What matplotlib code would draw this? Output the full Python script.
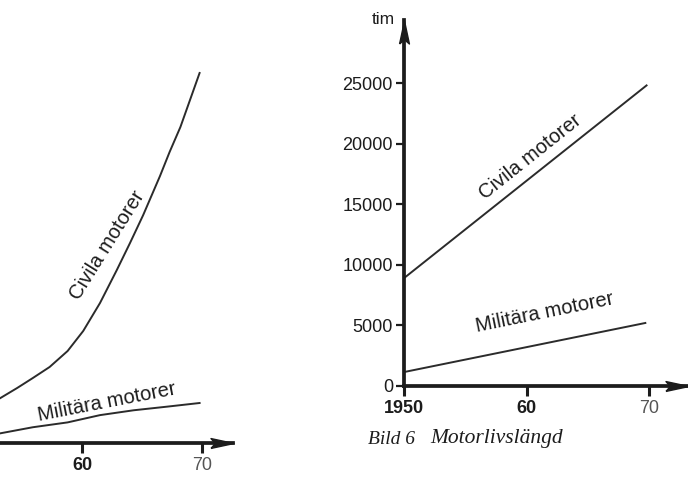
import matplotlib
matplotlib.use("Agg")
import matplotlib.pyplot as plt
import matplotlib.transforms as mtrans

INK = "#1c1c1c"; LINE = "#2b2b2b"; GREY = "#555555"

# left panel (cropped, Bild 5) - values in the same vertical units as the right one
left_civ_year = [1953.2, 1954.6, 1955.9, 1957.3, 1958.8, 1960.1, 1961.5, 1962.9,
                 1964.0, 1965.1, 1966.5, 1967.3, 1968.2, 1969.0, 1969.8]
left_civ_val = [3710, 4540, 5360, 6270, 7590, 9240, 11550, 14270,
                16500, 18810, 22030, 24010, 26070, 28300, 30530]
left_mil_year = [1953.2, 1955.9, 1958.8, 1961.5, 1964.3, 1967.1, 1969.8]
left_mil_val = [800, 1300, 1700, 2300, 2700, 3000, 3300]
left_xticks = [1960, 1970]
left_xlabels = ["60", "70"]

# right panel: Bild 6 Motorlivslängd (tim)
civ_year = [1950, 1969.8]
civ_tim = [8900, 24800]
mil_year = [1950, 1969.7]
mil_tim = [1150, 5200]
yticks = [0, 5000, 10000, 15000, 20000, 25000]
xticks = [1950, 1960, 1970]
xlabels = ["1950", "60", "70"]

W, H = 688, 479
fig = plt.figure(figsize=(W / 100, H / 100), dpi=100)
fig.patch.set_facecolor("white")

# long narrow arrow heads like the drawing
UP = [(-1.5, -3.5), (0, 3.5), (1.5, -3.5), (0, -2.2), (-1.5, -3.5)]
RIGHT = [(-3.5, -1.5), (3.5, 0), (-3.5, 1.5), (-2.2, 0), (-3.5, -1.5)]
HEAD = 23  # px

def px_axes(x0, y_axis, x1, y_top):
    # axes rectangle from pixel coords (origin top-left)
    return fig.add_axes([x0 / W, (H - y_axis) / H, (x1 - x0) / W, (y_axis - y_top) / H])

def style(ax, wpx, hpx, show_y=True):
    for s in ("top", "right"):
        ax.spines[s].set_visible(False)
    for s in ("bottom", "left"):
        ax.spines[s].set_linewidth(2.7); ax.spines[s].set_color(INK)
    ax.spines["left"].set_visible(show_y)
    ax.plot(1 - HEAD / 2 / wpx, 0, marker=RIGHT, color=INK, ms=HEAD * 0.72,
            transform=ax.get_yaxis_transform(), clip_on=False)
    if show_y:
        tr = mtrans.blended_transform_factory(ax.transData, ax.transAxes)
        ax.plot(1950, 1 - HEAD / 2 / hpx, marker=UP, color=INK, ms=HEAD * 0.72,
                transform=tr, clip_on=False)
    ax.tick_params(axis="x", direction="out", length=7, width=2.2, color=INK, pad=3)
    ax.tick_params(axis="y", direction="out", length=6, width=1.6, color=INK, pad=2)
    ax.set_facecolor("none")

def xlab(ax, ticks, labels):
    ax.set_xticks(ticks)
    ax.set_xticklabels(labels, fontsize=13, family="Liberation Sans", color=INK)
    for t in ax.get_xticklabels():
        if t.get_text() == "70":
            t.set_color(GREY)
        else:
            t.set_fontweight("bold")

# ---- left (cropped) panel ----
axl = px_axes(-38, 443, 233, 20)
axl.set_xlim(1950, 1950 + 271 / 12)
axl.set_ylim(0, 423 / 12.12 * 1000)
style(axl, 271, 423, show_y=False)
axl.set_yticks([])
xlab(axl, left_xticks, left_xlabels)
axl.plot(left_civ_year, left_civ_val, color=LINE, lw=1.4)
axl.plot(left_mil_year, left_mil_val, color=LINE, lw=1.4)
axl.text(1962.1, 16300, "Civila motorer", rotation=58, ha="center", va="center",
         fontsize=14.5, family="Liberation Sans", color=INK)
axl.text(1962.1, 3350, "Militära motorer", rotation=11, ha="center", va="center",
         fontsize=14.5, family="Liberation Sans", color=INK)

# ---- right panel ----
axr = px_axes(404, 386, 688, 20)
axr.set_xlim(1950, 1950 + 284 / 12.25)
axr.set_ylim(0, 366 / 12.12 * 1000)
style(axr, 284, 366)
axr.set_yticks(yticks)
axr.set_yticklabels([str(v) for v in yticks], fontsize=13, family="Liberation Sans", color=INK)
xlab(axr, xticks, xlabels)
axr.plot(civ_year, civ_tim, color=LINE, lw=1.4)
axr.plot(mil_year, mil_tim, color=LINE, lw=1.4)
axr.text(1960.3, 18900, "Civila motorer", rotation=38.5, ha="center", va="center",
         fontsize=14.5, family="Liberation Sans", color=INK)
axr.text(1961.5, 6050, "Militära motorer", rotation=11.5, ha="center", va="center",
         fontsize=14.5, family="Liberation Sans", color=INK)
fig.text(383 / W, 1 - 20 / H, "tim", ha="center", va="center",
         fontsize=12.5, family="Liberation Sans", color=INK)

# caption
fig.text(368 / W, 1 - 439 / H, "Bild 6", ha="left", va="center", fontsize=14,
         family="Liberation Serif", style="italic", color=INK)
fig.text(430 / W, 1 - 439 / H, "Motorlivslängd", ha="left", va="center", fontsize=15.5,
         family="Liberation Serif", style="italic", color=INK)

fig.savefig("out.png", dpi=100, facecolor="white")
